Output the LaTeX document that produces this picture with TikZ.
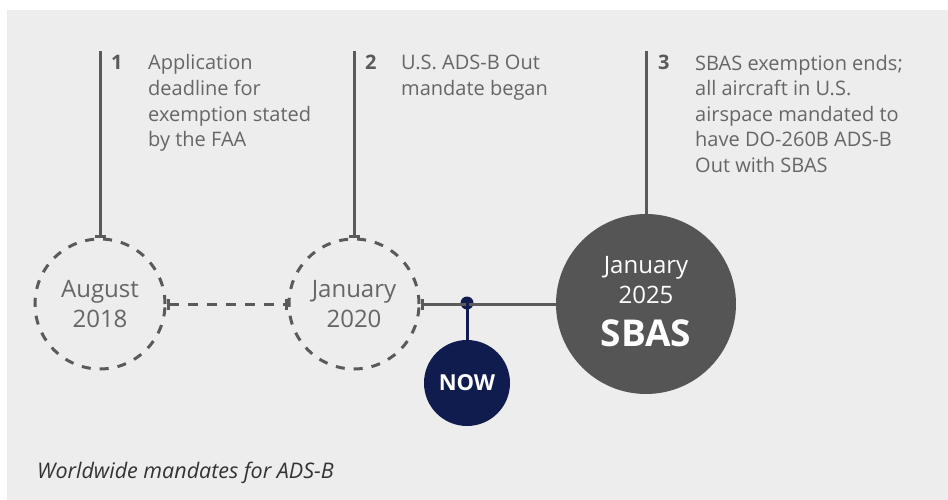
\documentclass[tikz,border=0pt]{standalone}
\usepackage{fontspec}
\setmainfont{Open Sans}
\usetikzlibrary{arrows.meta}
\definecolor{bgc}{HTML}{EDEDED}
\definecolor{linec}{HTML}{5A5A5A}
\definecolor{txtc}{HTML}{666666}
\definecolor{sbasc}{HTML}{555555}
\definecolor{navy}{HTML}{111C4E}
\tikzset{
  lbl/.style={anchor=base west, inner sep=0pt, text=txtc, font=\fontsize{20}{25.6}\selectfont, align=left},
  num/.style={anchor=base west, inner sep=0pt, text=linec, font=\fontsize{20}{25.6}\selectfont\bfseries},
  datecirc/.style={circle, draw=linec, line width=3pt, dash pattern=on 9pt off 9pt, minimum size=130pt, inner sep=0pt, text=txtc, font=\fontsize{24}{30}\selectfont, align=center},
  conn/.style={draw=linec, line width=3pt},
  wtxt/.style={anchor=base, text=white, inner sep=0pt},
}
\begin{document}
\begin{tikzpicture}[x=1pt,y=-1pt]
\useasboundingbox (0,0) rectangle (948,500);
\fill[bgc] (7,10) rectangle (948,500);
% circles
\node[datecirc] (c1) at (100,304) {August\\2018};
\node[datecirc] (c2) at (354,304) {January\\2020};
\node[circle, fill=sbasc, minimum size=180pt, inner sep=0pt] (c3) at (646,304) {};
\node[wtxt, font=\fontsize{24}{30}\selectfont] (c3a) at (646,273) {January};
\node[wtxt, font=\fontsize{24}{30}\selectfont] (c3b) at (646,303) {2025};
\node[wtxt, font=\fontsize{37}{40}\selectfont\bfseries] (c3c) at (646,346) {SBAS};
\node[circle, fill=navy, minimum size=86pt, inner sep=0pt, text=white, font=\fontsize{22}{24}\selectfont\bfseries] (now) at (467,383) {NOW};
\fill[navy] (467,303) circle (6.5pt) coordinate (dot);
% top coordinates
\coordinate (t1) at (100,51);
\coordinate (t2) at (354,51);
\coordinate (t3) at (646,51);
% connectors
\draw[conn, -{Bar[width=11pt,line width=3pt]}] (t1) -- (c1.north);
\draw[conn, -{Bar[width=11pt,line width=3pt]}] (t2) -- (c2.north);
\draw[conn] (t3) -- (c3.north);
\draw[conn, dash pattern=on 10pt off 9pt, {Bar[width=11pt,line width=3pt]}-{Bar[width=11pt,line width=3pt]}] (c1.east) -- (c2.west);
\draw[conn, {Bar[width=11pt,line width=3pt]}-] (c2.east) -- (c3.west);
\draw[draw=navy, line width=3pt] (dot) -- (now.north);
% labels (base anchor = baseline of last line)
\node[num] (n1) at (111,70) {1};
\node[lbl] (l1) at (148,146.8) {Application\\deadline for\\exemption stated\\by the FAA};
\node[num] (n2) at (365,70) {2};
\node[lbl] (l2) at (401,95.6) {U.S. ADS-B Out\\mandate began};
\node[num] (n3) at (658,70) {3};
\node[lbl] (l3) at (695,172.4) {SBAS exemption ends;\\all aircraft in U.S.\\airspace mandated to\\have DO-260B ADS-B\\Out with SBAS};
\node[anchor=base west, inner sep=0pt, text=black!80, font=\fontsize{21.5}{24}\selectfont\itshape] (cap) at (37,478) {Worldwide mandates for ADS-B};
\end{tikzpicture}
\end{document}
